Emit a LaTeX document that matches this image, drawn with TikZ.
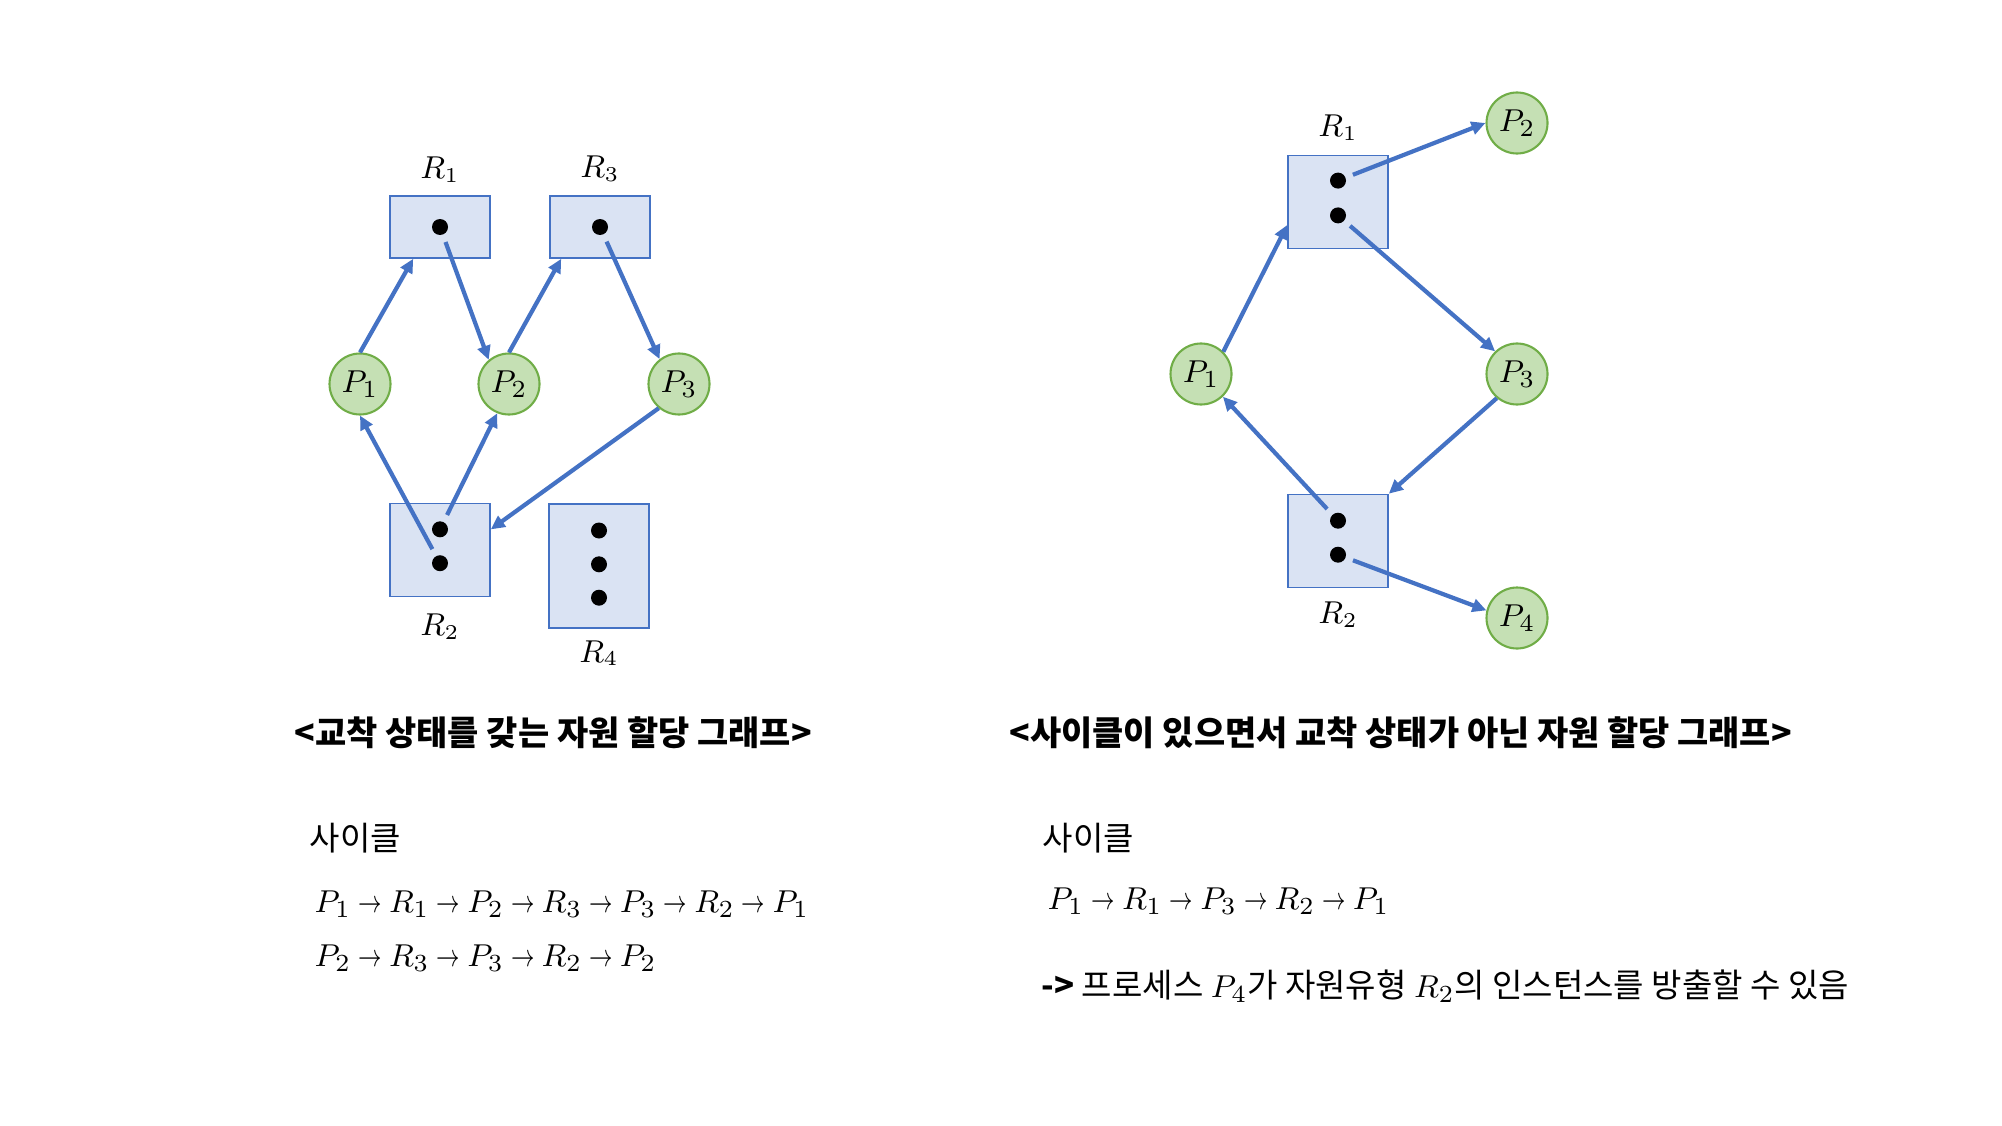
\documentclass[tikz,border=0pt]{standalone}
\usepackage{amsmath}
\usepackage{graphicx}
\usepackage{fontspec}
\setmainfont{Noto Sans CJK KR}
\usetikzlibrary{arrows.meta, positioning}
\definecolor{resFill}{RGB}{218, 227, 243}
\definecolor{resLine}{RGB}{68, 114, 196}
\definecolor{procFill}{RGB}{197, 224, 180}
\definecolor{procLine}{RGB}{112, 173, 71}
\newcommand{\nxt}{\mskip 4mu\relax\mathord{\scalebox{0.72}[1]{$\to$}}\mskip 4mu\relax}

\begin{document}
\begin{tikzpicture}[x=0.1mm, y=-0.1mm,
    res/.style={draw=resLine, fill=resFill, line width=0.45pt, minimum width=10mm, inner sep=0},
    proc/.style={circle, draw=procLine, fill=procFill, line width=0.6pt, minimum size=6.1mm, inner sep=0, font=\fontsize{9.5}{10}\selectfont},
    inst/.style={circle, fill=black, minimum size=1.6mm, inner sep=0, outer sep=0.8mm},
    edge/.style={resLine, line width=1.2pt, -{Triangle[length=1.4mm, width=1.3mm]}},
    lbl/.style={font=\fontsize{8.8}{9}\selectfont, inner sep=0},
    title/.style={anchor=west, inner sep=0, font=\fontsize{9.65}{11}\selectfont\bfseries},
    body/.style={anchor=west, inner sep=0, font=\fontsize{9.4}{11}\selectfont}]
  \useasboundingbox (0,0) rectangle (2002,1125);

  % deadlocked graph (left)
  \node[res, minimum height=6.2mm] (dR1) at (440,227) {};
  \node[res, minimum height=6.2mm] (dR3) at (600,227) {};
  \node[res, minimum height=9.3mm] (dR2) at (440,550) {};
  \node[res, minimum height=12.4mm] (dR4) at (599,566) {};
  \node[proc] (dP1) at (360,384) {$P_1$};
  \node[proc] (dP2) at (509,384) {$P_2$};
  \node[proc] (dP3) at (679,384) {$P_3$};

  \node[lbl, above=1.2mm of dR1] (dR1t) {$R_1$};
  \node[lbl, above=1.3mm of dR3] (dR3t) {$R_3$};
  \node[lbl, below=1.6mm of dR2] (dR2t) {$R_2$};
  \node[lbl, below=1.1mm of dR4] (dR4t) {$R_4$};

  % instances
  \node[inst] (dr1a) at (dR1) {};
  \node[inst] (dr3a) at (dR3) {};
  \node[inst] (dr2a) at ([yshift=2.07mm]dR2.center) {};
  \node[inst] (dr2b) at ([yshift=-1.32mm]dR2.center) {};
  \node[inst] (dr4a) at ([yshift=3.55mm]dR4.center) {};
  \node[inst] (dr4b) at ([yshift=0.17mm]dR4.center) {};
  \node[inst] (dr4c) at ([yshift=-3.17mm]dR4.center) {};

  \draw[edge] (dP1.north) -- ([xshift=2.4mm]dR1.south west);
  \draw[edge] (dr1a) -- (dP2.130);
  \draw[edge] (dP2.north) -- ([xshift=1.2mm]dR3.south west);
  \draw[edge] (dr3a) -- (dP3.128);
  \draw[edge] (dP3.230) -- ([yshift=2.06mm]dR2.east);
  \draw[edge] (dr2b) -- (dP1.south);
  \draw[edge] (dr2a) -- (dP2.248);

  % cycle without deadlock (right)
  \node[res, minimum height=9.3mm] (cR1) at (1338,202) {};
  \node[res, minimum height=9.3mm] (cR2) at (1338,541) {};
  \node[proc] (cP1) at (1201,374) {$P_1$};
  \node[proc] (cP2) at (1517,123) {$P_2$};
  \node[proc] (cP3) at (1517,374) {$P_3$};
  \node[proc] (cP4) at (1517,618) {$P_4$};

  \node[lbl, above=1.4mm of cR1] (cR1t) {$R_1$};
  \node[lbl, below=1.3mm of cR2] (cR2t) {$R_2$};

  \node[inst] (cr1a) at ([yshift=2.14mm]cR1.center) {};
  \node[inst] (cr1b) at ([yshift=-1.34mm]cR1.center) {};
  \node[inst] (cr2a) at ([yshift=2.03mm]cR2.center) {};
  \node[inst] (cr2b) at ([yshift=-1.37mm]cR2.center) {};

  \draw[edge] (cr1a) -- (cP2.west);
  \draw[edge] (cP1.45) -- ([yshift=-2.3mm]cR1.west);
  \draw[edge] (cr1b) -- (cP3.134);
  \draw[edge] (cP3.230) -- (cR2.north east);
  \draw[edge] (cr2a) -- (cP1.314);
  \draw[edge] (cr2b) -- (cP4.166);

  % captions
  \node[title] (dTitle) at (294,733) {<교착 상태를 갖는 자원 할당 그래프>};
  \node[title] (cTitle) at (1009,733) {<사이클이 있으면서 교착 상태가 아닌 자원 할당 그래프>};

  \node[body] (dCyc) at (309,838) {사이클};
  \node[body] (dPath1) at (314,904) {$P_1 \nxt R_1 \nxt P_2 \nxt R_3 \nxt P_3 \nxt R_2 \nxt P_1$};
  \node[body] (dPath2) at (314,958) {$P_2 \nxt R_3 \nxt P_3 \nxt R_2 \nxt P_2$};

  \node[body] (cCyc) at (1042,838) {사이클};
  \node[body] (cPath) at (1047,901) {$P_1 \nxt R_1 \nxt P_3 \nxt R_2 \nxt P_1$};
  \node[body] (cNote) at (1041,986) {{\bfseries ->} 프로세스 $P_4$가 자원유형 $R_2$의 인스턴스를 방출할 수 있음};
\end{tikzpicture}
\end{document}
